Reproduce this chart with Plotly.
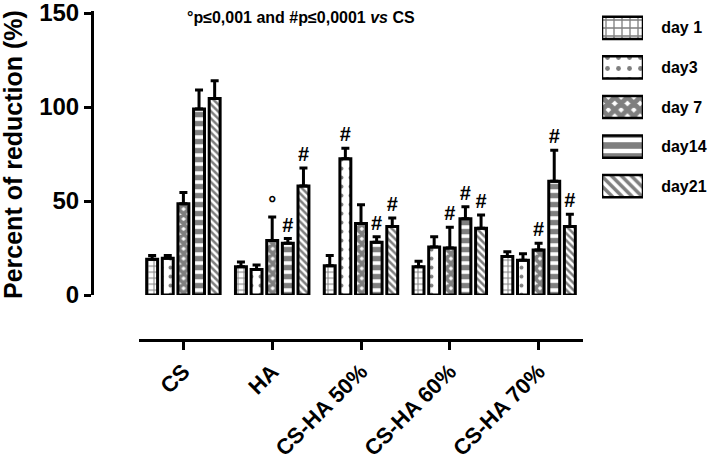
import plotly.graph_objects as go

groups = ["CS", "HA", "CS-HA 50%", "CS-HA 60%", "CS-HA 70%"]
days = ["day 1", "day3", "day 7", "day14", "day21"]

# mean values per day, one value per group
means = {
    "day 1": [19, 15, 15.5, 15, 20.5],
    "day3": [19.5, 13.5, 72.5, 25.5, 18.5],
    "day 7": [48.5, 29, 38, 25, 24],
    "day14": [99, 27.5, 28, 40.5, 60.5],
    "day21": [104.5, 58, 36.5, 35.5, 36.5],
}
# upper error (sd)
errs = {
    "day 1": [2, 2.5, 5.5, 3, 2.5],
    "day3": [1.5, 2.5, 5.5, 5.5, 3.5],
    "day 7": [6, 12.5, 10, 11, 3.5],
    "day14": [10, 2.5, 3, 6.5, 16.5],
    "day21": [9.5, 9.5, 4.5, 7, 6.5],
}
# significance marks vs CS
marks = {
    "day 1": ["", "", "", "", ""],
    "day3": ["", "", "#", "", ""],
    "day 7": ["", "°", "", "#", "#"],
    "day14": ["", "#", "#", "#", "#"],
    "day21": ["", "#", "#", "#", "#"],
}

# fill patterns (style only)
pat = {
    "day 1": dict(shape="+", size=6, solidity=0.3),
    "day3": dict(shape=".", size=9, solidity=0.15),
    "day 7": dict(shape="x", size=7, solidity=0.8),
    "day14": dict(shape="-", size=9, solidity=0.6),
    "day21": dict(shape="\\", size=5, solidity=0.5),
}

W, H = 709, 465
FONT = "Liberation Sans, Arial, sans-serif"
PX = 1.88  # pixels per unit on the y axis

fig = go.Figure()

for d in days:
    tops = [m + e for m, e in zip(means[d], errs[d])]
    # invisible bars carrying the significance marks above the error bars
    fig.add_trace(go.Bar(
        x=groups, y=tops, offsetgroup=d, showlegend=False,
        marker=dict(color="rgba(0,0,0,0)", line=dict(width=0)),
        text=marks[d], textposition="outside", constraintext="none",
        textfont=dict(family=FONT, size=20, color="black", weight="bold"),
        cliponaxis=False, hoverinfo="skip",
    ))
    fig.add_trace(go.Bar(
        x=groups, y=means[d], name=d, offsetgroup=d, showlegend=False,
        marker=dict(color="white", line=dict(color="black", width=3),
                    pattern=dict(fgcolor="black", bgcolor="white", fillmode="overlay", **pat[d])),
        error_y=dict(type="data", array=errs[d], arrayminus=[0] * len(groups), symmetric=False,
                     thickness=3, width=4, color="black"),
    ))

# legend drawn as boxes on their own small axes
fig.add_trace(go.Bar(
    x=[1] * len(days), y=days, orientation="h", xaxis="x2", yaxis="y2", width=0.56,
    showlegend=False, hoverinfo="skip",
    marker=dict(color="white", line=dict(color="black", width=2.5),
                pattern=dict(fgcolor="black", bgcolor="white", fillmode="overlay",
                             shape=[pat[d]["shape"] for d in days],
                             size=[pat[d]["size"] + 2 for d in days],
                             solidity=[pat[d]["solidity"] for d in days])),
))

fig.update_layout(
    width=W, height=H,
    margin=dict(l=0, r=0, t=0, b=0),
    paper_bgcolor="white", plot_bgcolor="white",
    barmode="group", bargap=0.12, bargroupgap=0.3,
    font=dict(family=FONT, color="black"),
    xaxis=dict(
        type="category", range=[-0.5, 4.5], domain=[139 / W, 583 / W],
        anchor="free", position=1 - 340 / H, automargin=False,
        showline=True, linewidth=3, linecolor="black",
        ticks="outside", ticklen=8, tickwidth=3, tickcolor="black",
        tickangle=-45, tickfont=dict(size=22, weight="bold"),
        showgrid=False, zeroline=False,
    ),
    yaxis=dict(
        range=[0, 151], domain=[1 - 295 / H, 1 - (295 - 151 * PX) / H],
        anchor="free", position=92 / W, automargin=False,
        showline=True, linewidth=3, linecolor="black",
        ticks="outside", ticklen=7, tickwidth=3, tickcolor="black",
        tickvals=[0, 50, 100, 150], tickfont=dict(size=24, weight="bold"),
        ticklabeloverflow="allow",
        showgrid=False, zeroline=False,
    ),
    xaxis2=dict(domain=[602 / W, 643 / W], anchor="y2", range=[0, 1], visible=False),
    yaxis2=dict(
        domain=[1 - 206 / H, 1 - 8 / H], anchor="x2", type="category",
        autorange="reversed", side="right", showline=False, showgrid=False,
        ticks="outside", ticklen=14, tickcolor="rgba(0,0,0,0)", automargin=False,
        tickfont=dict(size=16, weight="bold"),
    ),
    annotations=[
        dict(text="<b>°p≤0,001 and #p≤0,0001 <i>vs</i> CS</b>", x=301 / W, y=1 - 17 / H,
             xref="paper", yref="paper", xanchor="center", yanchor="middle",
             showarrow=False, font=dict(size=16)),
        dict(text="<b>Percent of reduction (%)</b>", x=13 / W, y=1 - 155 / H,
             xref="paper", yref="paper", xanchor="center", yanchor="middle",
             showarrow=False, textangle=-90, font=dict(size=25)),
    ],
)

# drop the default page margin so the figure sits at the window corner
fig.write_html("out.html", config={"displayModeBar": False},
               post_script="document.body.style.margin='0';document.body.style.overflow='hidden';")
